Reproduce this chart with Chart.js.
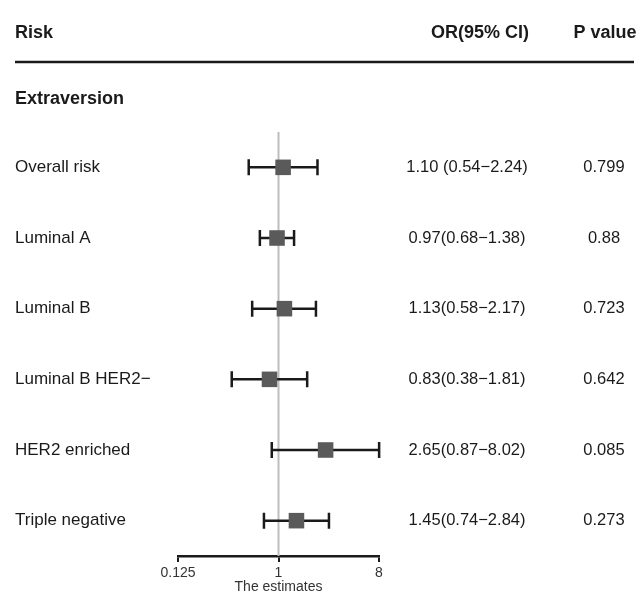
<!DOCTYPE html>
<html>
<head>
<meta charset="utf-8">
<script src="https://cdn.jsdelivr.net/npm/chart.js@4"></script>
<style>
  body { margin: 0; background: #fff; }
</style>
</head>
<body>
<canvas id="forest" width="643" height="596"></canvas>
<script>
// rows, top to bottom
const riskLabels = ["Overall risk", "Luminal A", "Luminal B", "Luminal B HER2\u2212", "HER2 enriched", "Triple negative"];
const oddsRatio = [1.10, 0.97, 1.13, 0.83, 2.65, 1.45];
const ciLower = [0.54, 0.68, 0.58, 0.38, 0.87, 0.74];
const ciUpper = [2.24, 1.38, 2.17, 1.81, 8.02, 2.84];
const orText = ["1.10 (0.54\u22122.24)", "0.97(0.68\u22121.38)", "1.13(0.58\u22122.17)", "0.83(0.38\u22121.81)", "2.65(0.87\u22128.02)", "1.45(0.74\u22122.84)"];
const pValues = ["0.799", "0.88", "0.723", "0.642", "0.085", "0.273"];
const xTicks = [0.125, 1, 8];
const refValue = 1;

const FONT = "'Liberation Sans', Arial, sans-serif";
const INK = "#1a1a1a";

// error bars + reference line
const whiskers = {
  id: "whiskers",
  beforeDatasetsDraw(chart) {
    const { ctx, chartArea, scales: { x, y } } = chart;
    ctx.save();
    const xr = x.getPixelForValue(refValue);
    ctx.strokeStyle = "#bdbdbd";
    ctx.lineWidth = 2;
    ctx.beginPath();
    ctx.moveTo(xr, chartArea.top);
    ctx.lineTo(xr, chartArea.bottom);
    ctx.stroke();

    ctx.strokeStyle = INK;
    ctx.lineWidth = 2.5;
    riskLabels.forEach((_, i) => {
      const yy = y.getPixelForValue(i);
      const x1 = x.getPixelForValue(ciLower[i]);
      const x2 = x.getPixelForValue(ciUpper[i]);
      ctx.beginPath();
      ctx.moveTo(x1, yy); ctx.lineTo(x2, yy);
      ctx.moveTo(x1, yy - 8); ctx.lineTo(x1, yy + 8);
      ctx.moveTo(x2, yy - 8); ctx.lineTo(x2, yy + 8);
      ctx.stroke();
    });
    ctx.restore();
  }
};

// header, group title and the two text columns
const table = {
  id: "table",
  afterDraw(chart) {
    const { ctx, scales: { y } } = chart;
    ctx.save();
    ctx.fillStyle = INK;
    ctx.textBaseline = "middle";
    ctx.font = "bold 18px " + FONT;
    ctx.textAlign = "left";
    ctx.fillText("Risk", 15, 33);
    ctx.fillText("Extraversion", 15, 99);
    ctx.textAlign = "center";
    ctx.fillText("OR(95% CI)", 480, 33);
    ctx.fillText("P value", 605, 33);

    ctx.strokeStyle = INK;
    ctx.lineWidth = 2.5;
    ctx.beginPath();
    ctx.moveTo(15, 62);
    ctx.lineTo(634, 62);
    ctx.stroke();

    ctx.font = "16.5px " + FONT;
    riskLabels.forEach((_, i) => {
      const yy = y.getPixelForValue(i);
      ctx.fillText(orText[i], 467, yy);
      ctx.fillText(pValues[i], 604, yy);
    });
    ctx.restore();
  }
};

new Chart(document.getElementById("forest"), {
  type: "scatter",
  data: {
    datasets: [{
      data: oddsRatio.map((v, i) => ({ x: v, y: i })),
      pointStyle: "rect",
      pointRadius: 11,
      pointHoverRadius: 11,
      backgroundColor: "#5a5a5a",
      borderWidth: 0
    }]
  },
  options: {
    responsive: false,
    animation: false,
    events: [],
    layout: { padding: { left: 15, right: 264, top: 132, bottom: 0 } },
    plugins: { legend: { display: false }, tooltip: { enabled: false } },
    scales: {
      x: {
        type: "logarithmic",
        min: 0.125,
        max: 8,
        afterBuildTicks: (s) => { s.ticks = xTicks.map(v => ({ value: v })); },
        afterFit: (s) => { s.height = 40; },
        ticks: {
          callback: (v) => String(v),
          color: "#333",
          font: { family: FONT, size: 14 },
          padding: 3,
          maxRotation: 0,
          autoSkip: false
        },
        grid: { drawOnChartArea: false, tickLength: 6, lineWidth: 2, color: INK },
        border: { display: true, width: 2.5, color: INK },
        title: {
          display: true,
          text: "The estimates",
          color: "#333",
          font: { family: FONT, size: 14 },
          padding: { top: -4, bottom: 0 }
        }
      },
      y: {
        reverse: true,
        min: -0.5,
        max: 5.5,
        afterBuildTicks: (s) => { s.ticks = riskLabels.map((_, i) => ({ value: i })); },
        afterFit: (s) => { s.width = 163; },
        ticks: {
          callback: (v) => riskLabels[v],
          crossAlign: "far",
          color: INK,
          font: { family: FONT, size: 17 },
          autoSkip: false
        },
        grid: { display: false },
        border: { display: false }
      }
    }
  },
  plugins: [whiskers, table]
});
</script>
</body>
</html>
